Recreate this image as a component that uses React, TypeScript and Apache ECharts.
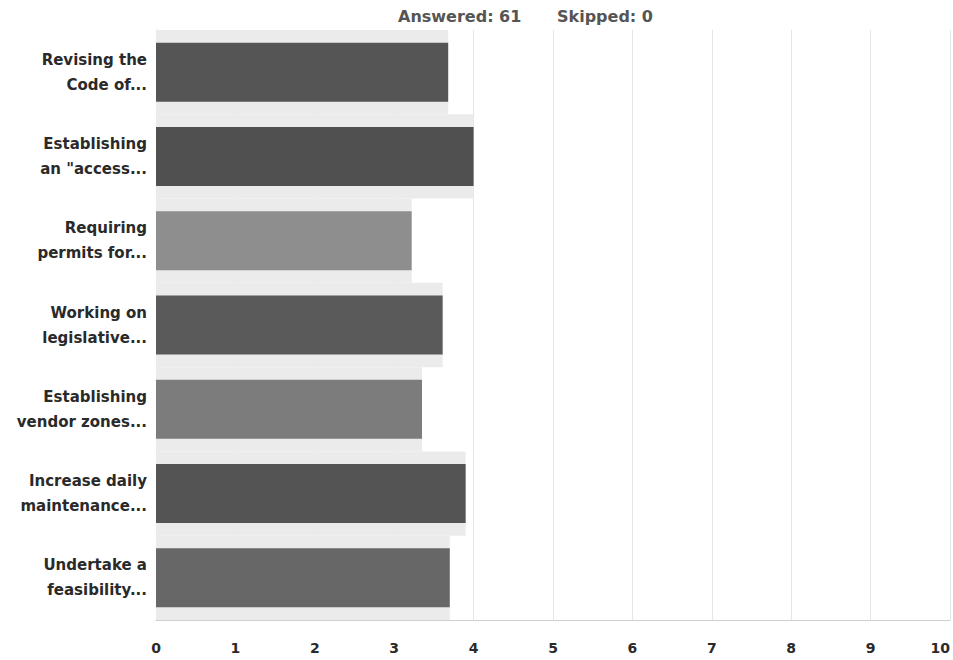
import React, { useEffect, useRef } from "react";
import * as echarts from "echarts";

// Survey answer choices (truncated as shown) and their average scores
const categories = [
  "Revising the\nCode of...",
  "Establishing\nan \"access...",
  "Requiring\npermits for...",
  "Working on\nlegislative...",
  "Establishing\nvendor zones...",
  "Increase daily\nmaintenance...",
  "Undertake a\nfeasibility...",
];
const averages = [3.68, 4.0, 3.22, 3.61, 3.35, 3.9, 3.7];
const barColors = ["#555555", "#505050", "#8e8e8e", "#5a5a5a", "#7c7c7c", "#545454", "#676767"];
const answered = 61;
const skipped = 0;

const FONT = "'DejaVu Sans', sans-serif";

export default function App() {
  const ref = useRef<HTMLDivElement>(null);

  useEffect(() => {
    if (!ref.current) return;
    const chart = echarts.init(ref.current, undefined, { renderer: "svg" });
    const headerStyle = { fontFamily: FONT, fontSize: 16, fontWeight: "bold", fill: "#555555" };
    chart.setOption({
      animation: false,
      backgroundColor: "#ffffff",
      graphic: [
        { type: "text", left: 398, top: 8, style: { ...headerStyle, text: `Answered: ${answered}` } },
        { type: "text", left: 557, top: 8, style: { ...headerStyle, text: `Skipped: ${skipped}` } },
      ],
      grid: { left: 156, right: 0, top: 30, bottom: 40, containLabel: false },
      xAxis: {
        type: "value",
        min: 0,
        max: 10,
        interval: 1,
        axisLine: { show: true, lineStyle: { color: "#cfcfcf", width: 1 } },
        axisTick: { show: false },
        splitLine: { show: true, lineStyle: { color: "#e6e6e6", width: 1 } },
        axisLabel: {
          margin: 21,
          alignMaxLabel: "right",
          fontFamily: FONT,
          fontSize: 14,
          fontWeight: "bold",
          color: "#2a2a2a",
        },
      },
      yAxis: [
        {
          type: "category",
          inverse: true,
          data: categories,
          axisLine: { show: true, lineStyle: { color: "#d5d5d5" } },
          axisTick: { show: false },
          axisLabel: {
            margin: 9,
            fontFamily: FONT,
            fontSize: 15,
            fontWeight: "bold",
            lineHeight: 25,
            color: "#2a2a2a",
            align: "right",
          },
        },
        {
          // twin axis so the shading bands are laid out independently of the bars
          type: "category",
          inverse: true,
          data: categories,
          show: false,
        },
      ],
      series: [
        {
          // faint shading that surrounds each bar
          type: "bar",
          yAxisIndex: 1,
          data: averages,
          barWidth: "100%",
          silent: true,
          itemStyle: { color: "#ebebeb" },
          z: 1,
        },
        {
          type: "bar",
          yAxisIndex: 0,
          data: averages.map((v, i) => ({ value: v, itemStyle: { color: barColors[i] } })),
          barWidth: 59,
          z: 2,
        },
      ],
    });
    return () => chart.dispose();
  }, []);

  return <div ref={ref} style={{ width: 953, height: 660, position: "absolute", left: 0, top: 0 }} />;
}
